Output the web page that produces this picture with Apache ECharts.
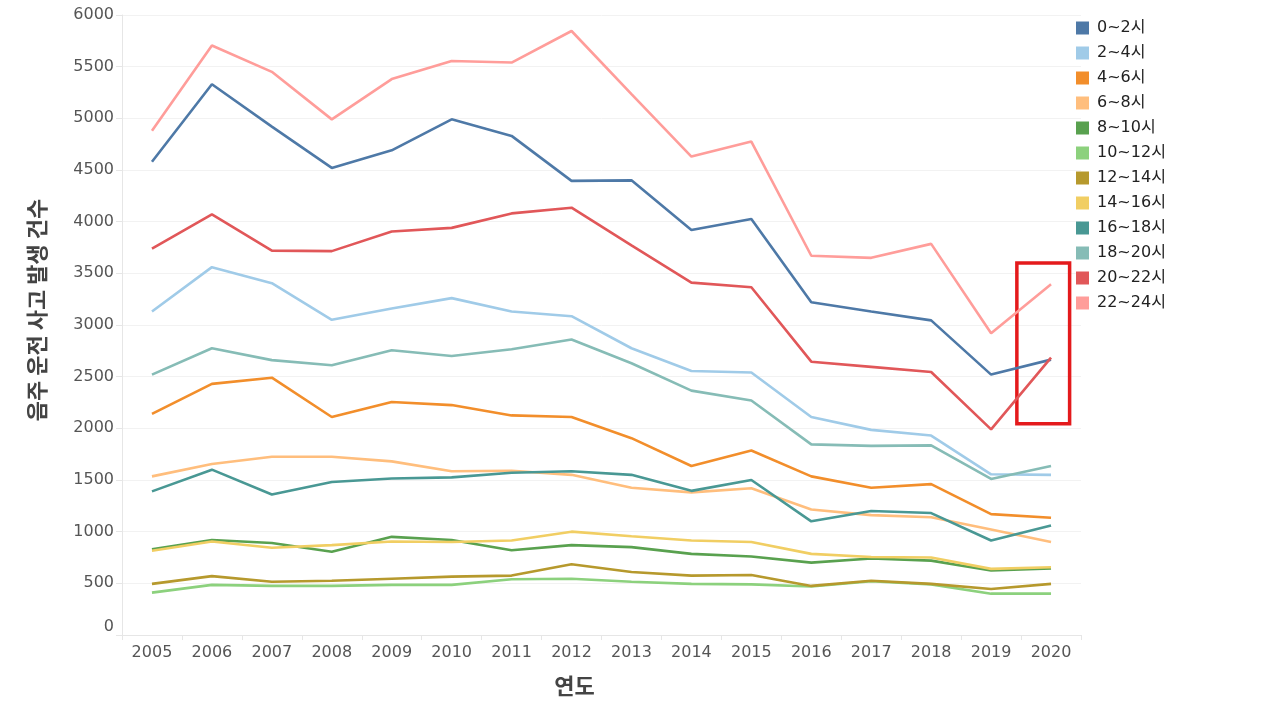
<!DOCTYPE html>
<html>
<head>
<meta charset="utf-8">
<script src="https://cdn.jsdelivr.net/npm/echarts@6/dist/echarts.min.js"></script>
<style>
html,body{margin:0;padding:0;background:#fff;}
#main{width:1280px;height:720px;}
</style>
</head>
<body>
<div id="main"></div>
<script>
var years = ['2005','2006','2007','2008','2009','2010','2011','2012','2013','2014','2015','2016','2017','2018','2019','2020'];
var seriesNames = ['0~2시','2~4시','4~6시','6~8시','8~10시','10~12시','12~14시','14~16시','16~18시','18~20시','20~22시','22~24시'];
var colors = ['#4e79a7','#a0cbe8','#f28e2b','#ffbe7d','#59a14f','#8cd17d','#b6992d','#f1ce63','#499894','#86bcb6','#e15759','#ff9d9a'];

var h0_2   = [4580,5330,4920,4520,4690,4990,4830,4395,4400,3920,4025,3220,3130,3045,2520,2665];
var h2_4   = [3130,3560,3405,3050,3160,3260,3130,3085,2775,2555,2540,2110,1985,1930,1555,1550];
var h4_6   = [2140,2430,2490,2110,2255,2225,2125,2110,1905,1635,1785,1535,1425,1460,1170,1135];
var h6_8   = [1535,1655,1725,1725,1680,1585,1590,1550,1425,1380,1420,1215,1160,1140,1020,900];
var h8_10  = [830,920,890,805,950,920,820,870,850,785,760,700,740,720,625,645];
var h10_12 = [410,485,475,475,485,485,540,545,515,495,490,470,520,490,400,400];
var h12_14 = [495,570,515,525,545,565,575,685,610,575,580,475,525,495,445,495];
var h14_16 = [815,905,845,870,905,900,915,1000,955,915,900,785,755,750,640,655];
var h16_18 = [1390,1600,1360,1480,1515,1525,1570,1585,1550,1395,1500,1100,1200,1180,915,1060];
var h18_20 = [2520,2775,2660,2610,2755,2700,2765,2860,2630,2365,2270,1845,1830,1835,1510,1635];
var h20_22 = [3740,4070,3720,3715,3905,3940,4080,4135,3770,3410,3365,2645,2595,2545,1990,2685];
var h22_24 = [4880,5705,5450,4990,5380,5555,5540,5845,5235,4630,4775,3670,3650,3785,2920,3395];

var highlightX = [14.43, 15.31];
var highlightY = [2045, 3600];

var allData = [h0_2,h2_4,h4_6,h6_8,h8_10,h10_12,h12_14,h14_16,h16_18,h18_20,h20_22,h22_24];

var series = seriesNames.map(function(n,i){
  return {
    name:n, type:'line', data:allData[i], symbol:'none', smooth:false,
    lineStyle:{width:2.6,color:colors[i]}, itemStyle:{color:colors[i]},
    z: 2 + i
  };
});
series.push({
  name:'highlight', type:'line', xAxisIndex:1, yAxisIndex:0, data:[], symbol:'none',
  silent:true, z:30,
  markArea:{
    silent:true,
    itemStyle:{color:'rgba(0,0,0,0)', borderColor:'#e41a1c', borderWidth:3.5},
    data:[[{coord:[highlightX[0], highlightY[1]]},{coord:[highlightX[1], highlightY[0]]}]]
  }
});

var chart = echarts.init(document.getElementById('main'));
chart.setOption({
  animation:false,
  backgroundColor:'#fff',
  color:colors,
  grid:{left:122,right:199,top:15,bottom:85,containLabel:false},
  legend:{
    data:seriesNames, orient:'vertical', left:1071, top:15,
    icon:'rect', itemWidth:13, itemHeight:13, itemGap:9,
    textStyle:{fontSize:16,lineHeight:16,color:'#222',fontFamily:'DejaVu Sans, Noto Sans CJK KR',padding:[0,0,0,3]}
  },
  xAxis:[{
    type:'category', data:years, boundaryGap:true,
    name:'연도', nameLocation:'middle', nameGap:40,
    nameTextStyle:{fontSize:22,fontWeight:'bold',color:'#444',fontFamily:'Noto Sans CJK KR',padding:[0,54,0,0]},
    axisLine:{show:true,lineStyle:{color:'#e6e6e6',width:1}},
    axisTick:{show:true,length:5,lineStyle:{color:'#e6e6e6'}},
    axisLabel:{fontSize:16,color:'#555',margin:10,fontFamily:'DejaVu Sans'},
    splitLine:{show:false}
  },{
    type:'value', min:-0.5, max:15.5, show:false
  }],
  yAxis:{
    type:'value', min:0, max:6000, interval:500,
    name:'음주 운전 사고 발생 건수', nameLocation:'middle', nameGap:74, nameRotate:90,
    nameTextStyle:{fontSize:22,fontWeight:'bold',color:'#444',fontFamily:'Noto Sans CJK KR',padding:[0,0,0,30]},
    axisLine:{show:true,onZero:false,lineStyle:{color:'#e6e6e6',width:1}},
    axisTick:{show:true,length:6,lineStyle:{color:'#e6e6e6'}},
    axisLabel:{fontSize:16,color:'#555',margin:8,fontFamily:'DejaVu Sans',verticalAlignMinLabel:'bottom',
      formatter:function(v){return String(v);}},
    splitLine:{show:true,lineStyle:{color:'#f2f2f2',width:1}}
  },
  series:series
});
</script>
</body>
</html>
